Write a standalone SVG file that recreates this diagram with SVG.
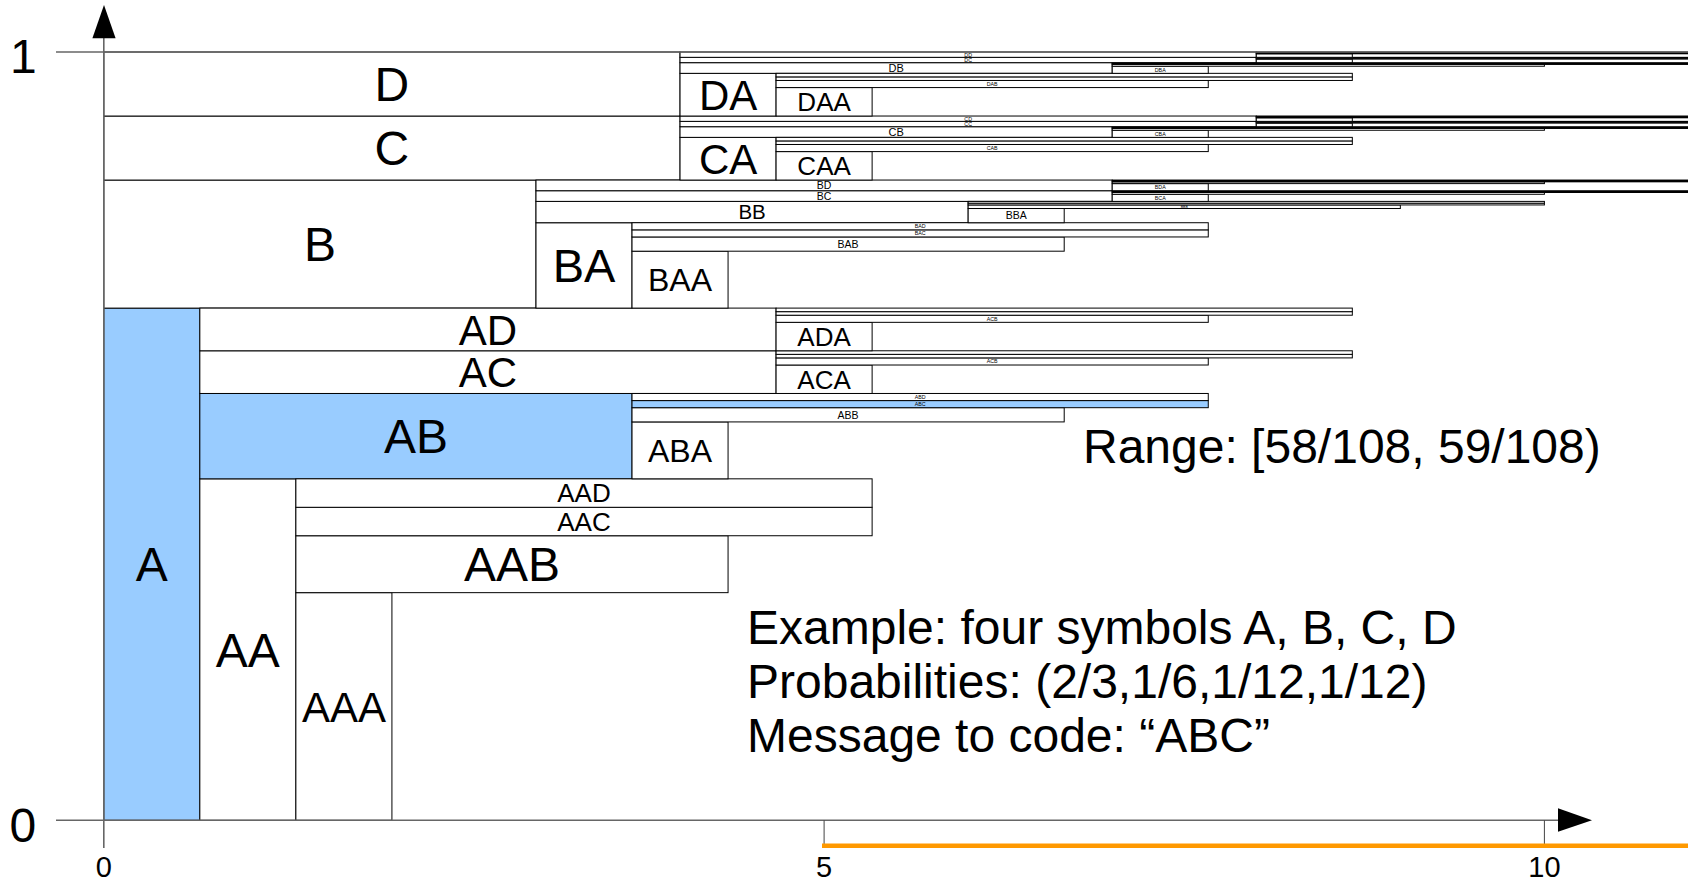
<svg xmlns="http://www.w3.org/2000/svg" width="1688" height="883" viewBox="0 0 1688 883">
<style>
rect{fill:#fff;stroke:#000;stroke-width:1}
rect.hl{fill:#99ccff}
text{font-family:"Liberation Sans",Arial,sans-serif;fill:#000;text-anchor:middle}
.f48{font-size:48px}.f47{font-size:47px}.f42{font-size:42px}.f32{font-size:32px}.f26{font-size:26px}.f20{font-size:20.5px}.f11{font-size:11px}.f10{font-size:10.5px}.f5{font-size:5.3px}.f3{font-size:3.5px}
.ax{stroke:#666;stroke-width:1.6;fill:none}
.tick{stroke:#444;stroke-width:1;fill:none}
.st{text-anchor:start}
.tl{font-size:29px}
</style>
<rect x="0" y="0" width="1688" height="883" style="fill:#fff;stroke:none"/>
<g id="nodes">
<g id="A"><rect class="hl" x="103.8" y="308.1" width="96.04" height="512.2"/><text class="f48" x="151.82" y="581.4">A</text></g>
<g id="B"><rect x="103.8" y="180.05" width="432.2" height="128.05"/><text class="f48" x="319.9" y="261.3">B</text></g>
<g id="C"><rect x="103.8" y="116.03" width="576.24" height="64.02"/><text class="f48" x="391.92" y="165.2">C</text></g>
<g id="D"><rect x="103.8" y="52" width="576.24" height="64.03"/><text class="f48" x="391.92" y="101.2">D</text></g>

<g id="AA"><rect x="199.84" y="478.83" width="96.04" height="341.47"/><text class="f48" x="247.86" y="666.8">AA</text></g>
<g id="AB"><rect class="hl" x="199.84" y="393.47" width="432.18" height="85.36"/><text class="f48" x="415.93" y="453.3">AB</text></g>
<g id="AC"><rect x="199.84" y="350.78" width="576.24" height="42.69"/><text class="f42" x="487.96" y="387.2">AC</text></g>
<g id="AD"><rect x="199.84" y="308.1" width="576.24" height="42.68"/><text class="f42" x="487.96" y="344.5">AD</text></g>
<g id="BA"><rect x="536" y="222.73" width="96.02" height="85.37"/><text class="f47" x="584.01" y="282.2">BA</text></g>
<g id="BB"><rect x="536" y="201.39" width="432.16" height="21.34"/><text class="f20" x="752.08" y="219.4">BB</text></g>
<g id="BC"><rect x="536" y="190.72" width="576.22" height="10.67"/><text class="f10" x="824.11" y="199.8">BC</text></g>
<g id="BD"><rect x="536" y="180.05" width="576.22" height="10.67"/><text class="f10" x="824.11" y="189.1">BD</text></g>
<g id="CA"><rect x="680.04" y="137.37" width="96.04" height="42.68"/><text class="f42" x="728.06" y="173.7">CA</text></g>
<g id="CB"><rect x="680.04" y="126.7" width="432.18" height="10.67"/><text class="f11" x="896.13" y="136">CB</text></g>
<g id="CC"><rect x="680.04" y="121.36" width="576.24" height="5.34"/><text class="f5" x="968.16" y="125.9">CC</text></g>
<g id="CD"><rect x="680.04" y="116.03" width="576.24" height="5.33"/><text class="f5" x="968.16" y="120.6">CD</text></g>
<g id="DA"><rect x="680.04" y="73.34" width="96.04" height="42.69"/><text class="f42" x="728.06" y="109.7">DA</text></g>
<g id="DB"><rect x="680.04" y="62.67" width="432.18" height="10.67"/><text class="f11" x="896.13" y="72">DB</text></g>
<g id="DC"><rect x="680.04" y="57.33" width="576.24" height="5.34"/><text class="f5" x="968.16" y="61.9">DC</text></g>
<g id="DD"><rect x="680.04" y="52" width="576.24" height="5.33"/><text class="f5" x="968.16" y="56.6">DD</text></g>

<g id="AAA"><rect x="295.88" y="592.66" width="96.04" height="227.64"/><text class="f42" x="343.9" y="721.5">AAA</text></g>
<g id="AAB"><rect x="295.88" y="535.74" width="432.18" height="56.92"/><text class="f48" x="511.97" y="581.4">AAB</text></g>
<g id="AAC"><rect x="295.88" y="507.29" width="576.24" height="28.45"/><text class="f26" x="584" y="530.8">AAC</text></g>
<g id="AAD"><rect x="295.88" y="478.83" width="576.24" height="28.46"/><text class="f26" x="584" y="502.4">AAD</text></g>
<g id="ABA"><rect x="632.02" y="421.92" width="96.04" height="56.91"/><text class="f32" x="680.04" y="461.8">ABA</text></g>
<g id="ABB"><rect x="632.02" y="407.69" width="432.18" height="14.23"/><text class="f10" x="848.11" y="418.6">ABB</text></g>
<g id="ABC"><rect class="hl" x="632.02" y="400.58" width="576.24" height="7.11"/><text class="f5" x="920.14" y="406">ABC</text></g>
<g id="ABD"><rect x="632.02" y="393.47" width="576.24" height="7.11"/><text class="f5" x="920.14" y="398.9">ABD</text></g>
<g id="ACA"><rect x="776.08" y="365.01" width="96.04" height="28.46"/><text class="f26" x="824.1" y="388.5">ACA</text></g>
<g id="ACB"><rect x="776.08" y="357.9" width="432.18" height="7.11"/><text class="f5" x="992.17" y="363.3">ACB</text></g>
<g id="ACC"><rect x="776.08" y="354.34" width="576.24" height="3.56"/></g>
<g id="ACD"><rect x="776.08" y="350.78" width="576.24" height="3.56"/></g>
<g id="ADA"><rect x="776.08" y="322.33" width="96.04" height="28.45"/><text class="f26" x="824.1" y="345.9">ADA</text></g>
<g id="ADB"><rect x="776.08" y="315.21" width="432.18" height="7.12"/><text class="f5" x="992.17" y="320.6">ACB</text></g>
<g id="ADC"><rect x="776.08" y="311.66" width="576.24" height="3.55"/></g>
<g id="ADD"><rect x="776.08" y="308.1" width="576.24" height="3.56"/></g>

<g id="BAA"><rect x="632.02" y="251.19" width="96.04" height="56.91"/><text class="f32" x="680.04" y="291.1">BAA</text></g>
<g id="BAB"><rect x="632.02" y="236.96" width="432.18" height="14.23"/><text class="f10" x="848.11" y="247.8">BAB</text></g>
<g id="BAC"><rect x="632.02" y="229.85" width="576.24" height="7.11"/><text class="f5" x="920.14" y="235.3">BAC</text></g>
<g id="BAD"><rect x="632.02" y="222.73" width="576.24" height="7.12"/><text class="f5" x="920.14" y="228.2">BAD</text></g>
<g id="BBA"><rect x="968.16" y="208.51" width="96.04" height="14.22"/><text class="f10" x="1016.18" y="219.4">BBA</text></g>
<g id="BBB"><rect x="968.16" y="204.95" width="432.18" height="3.56"/><text class="f3" x="1184.25" y="208">BBB</text></g>
<g id="BBC"><rect x="968.16" y="203.17" width="576.24" height="1.78"/></g>
<g id="BBD"><rect x="968.16" y="201.39" width="576.24" height="1.78"/></g>
<g id="BCA"><rect x="1112.22" y="194.28" width="96.04" height="7.11"/><text class="f5" x="1160.24" y="199.7">BCA</text></g>
<g id="BCB"><rect x="1112.22" y="192.5" width="432.18" height="1.78"/></g>
<g id="BCC"><rect x="1112.22" y="191.61" width="576.24" height="0.89"/></g>
<g id="BCD"><rect x="1112.22" y="190.72" width="576.24" height="0.89"/></g>
<g id="BDA"><rect x="1112.22" y="183.61" width="96.04" height="7.11"/><text class="f5" x="1160.24" y="189">BDA</text></g>
<g id="BDB"><rect x="1112.22" y="181.83" width="432.18" height="1.78"/></g>
<g id="BDC"><rect x="1112.22" y="180.94" width="576.24" height="0.89"/></g>
<g id="BDD"><rect x="1112.22" y="180.05" width="576.24" height="0.89"/></g>

<g id="CAA"><rect x="776.08" y="151.59" width="96.04" height="28.46"/><text class="f26" x="824.1" y="175.1">CAA</text></g>
<g id="CAB"><rect x="776.08" y="144.48" width="432.18" height="7.11"/><text class="f5" x="992.17" y="149.9">CAB</text></g>
<g id="CAC"><rect x="776.08" y="140.92" width="576.24" height="3.56"/></g>
<g id="CAD"><rect x="776.08" y="137.37" width="576.24" height="3.55"/></g>
<g id="CBA"><rect x="1112.22" y="130.25" width="96.04" height="7.12"/><text class="f5" x="1160.24" y="135.7">CBA</text></g>
<g id="CBB"><rect x="1112.22" y="128.47" width="432.18" height="1.78"/></g>
<g id="CBC"><rect x="1112.22" y="127.59" width="576.24" height="0.88"/></g>
<g id="CBD"><rect x="1112.22" y="126.7" width="576.24" height="0.89"/></g>
<g id="CCA"><rect x="1256.28" y="123.14" width="96.04" height="3.56"/></g>
<g id="CCB"><rect x="1256.28" y="122.25" width="432.18" height="0.89"/></g>
<g id="CCC"><rect x="1256.28" y="121.81" width="576.24" height="0.44"/></g>
<g id="CCD"><rect x="1256.28" y="121.36" width="576.24" height="0.45"/></g>
<g id="CDA"><rect x="1256.28" y="117.8" width="96.04" height="3.56"/></g>
<g id="CDB"><rect x="1256.28" y="116.91" width="432.18" height="0.89"/></g>
<g id="CDC"><rect x="1256.28" y="116.47" width="576.24" height="0.44"/></g>
<g id="CDD"><rect x="1256.28" y="116.03" width="576.24" height="0.44"/></g>

<g id="DAA"><rect x="776.08" y="87.57" width="96.04" height="28.46"/><text class="f26" x="824.1" y="111.1">DAA</text></g>
<g id="DAB"><rect x="776.08" y="80.46" width="432.18" height="7.11"/><text class="f5" x="992.17" y="85.9">DAB</text></g>
<g id="DAC"><rect x="776.08" y="76.9" width="576.24" height="3.56"/></g>
<g id="DAD"><rect x="776.08" y="73.34" width="576.24" height="3.56"/></g>
<g id="DBA"><rect x="1112.22" y="66.23" width="96.04" height="7.11"/><text class="f5" x="1160.24" y="71.7">DBA</text></g>
<g id="DBB"><rect x="1112.22" y="64.45" width="432.18" height="1.78"/></g>
<g id="DBC"><rect x="1112.22" y="63.56" width="576.24" height="0.89"/></g>
<g id="DBD"><rect x="1112.22" y="62.67" width="576.24" height="0.89"/></g>
<g id="DCA"><rect x="1256.28" y="59.11" width="96.04" height="3.56"/></g>
<g id="DCB"><rect x="1256.28" y="58.22" width="432.18" height="0.89"/></g>
<g id="DCC"><rect x="1256.28" y="57.78" width="576.24" height="0.44"/></g>
<g id="DCD"><rect x="1256.28" y="57.33" width="576.24" height="0.45"/></g>
<g id="DDA"><rect x="1256.28" y="53.78" width="96.04" height="3.55"/></g>
<g id="DDB"><rect x="1256.28" y="52.89" width="432.18" height="0.89"/></g>
<g id="DDC"><rect x="1256.28" y="52.44" width="576.24" height="0.45"/></g>
<g id="DDD"><rect x="1256.28" y="52" width="576.24" height="0.44"/></g>
</g>

<g id="connectors">
<line class="ax" x1="56" y1="52" x2="1688" y2="52"/>
<line class="ax" x1="56" y1="820.3" x2="1560" y2="820.3"/>
<polygon points="1558,808.3 1592,820.3 1558,831.7" fill="#000"/>
<line class="ax" x1="103.8" y1="848" x2="103.8" y2="36"/>
<polygon points="92.4,38.3 115.6,38.3 104,5" fill="#000"/>
<line class="tick" x1="824.1" y1="820.3" x2="824.1" y2="848"/>
<line class="tick" x1="1544.4" y1="820.3" x2="1544.4" y2="848"/>
<line x1="822" y1="845.7" x2="1688" y2="845.7" stroke="#ff9900" stroke-width="4.5"/>
</g>

<g id="labels">
<text class="f48 st" x="10" y="72.5">1</text>
<text class="f48 st" x="9.5" y="842">0</text>
<text class="tl" x="103.8" y="877">0</text>
<text class="tl" x="824.1" y="877">5</text>
<text class="tl" x="1544.4" y="877">10</text>
<text class="f48 st" x="1083" y="463">Range: [58/108, 59/108)</text>
<text class="f48 st" x="747" y="643.5">Example: four symbols A, B, C, D</text>
<text class="f48 st" x="747" y="697.7">Probabilities: (2/3,1/6,1/12,1/12)</text>
<text class="f48 st" x="747" y="752">Message to code: “ABC”</text>
</g>
</svg>
